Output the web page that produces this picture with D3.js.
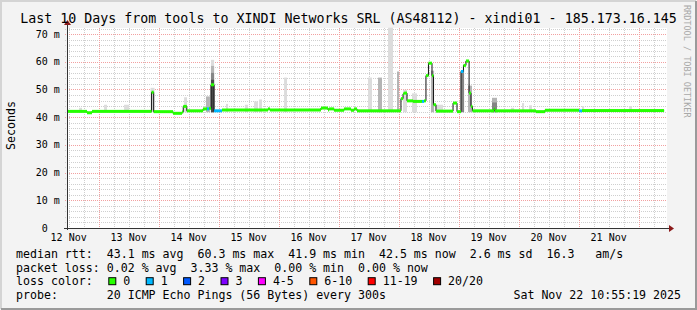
<!DOCTYPE html>
<html>
<head>
<meta charset="utf-8">
<script src="https://cdn.jsdelivr.net/npm/d3@7"></script>
<style>
  body { margin: 0; background: #f3f3f3; }
  svg text { font-family: "DejaVu Sans Mono", monospace; white-space: pre; }
</style>
</head>
<body>
<svg id="chart" width="697" height="310"></svg>
<script>
const graphStart = '2025-11-12 11:20';
const graphEnd = '2025-11-22 11:20';
const titleText = 'Last 10 Days from tools to XINDI Networks SRL (AS48112) - xindi01 - 185.173.16.145';

// median rtt as a step series; loss index picks the colour
const medianTimes = [
  '2025-11-12 11:20', '2025-11-12 19:20', '2025-11-12 21:20', '2025-11-13 21:10', '2025-11-13 22:00',
  '2025-11-14 05:45', '2025-11-14 09:20', '2025-11-14 09:50', '2025-11-14 11:15', '2025-11-14 17:45',
  '2025-11-14 19:20', '2025-11-14 20:10', '2025-11-14 20:55', '2025-11-14 22:10', '2025-11-15 01:20',
  '2025-11-15 19:45', '2025-11-15 20:30', '2025-11-16 16:55', '2025-11-16 19:45', '2025-11-16 20:10',
  '2025-11-16 22:10', '2025-11-17 02:10', '2025-11-17 04:55', '2025-11-17 06:10', '2025-11-17 07:20',
  '2025-11-18 00:55', '2025-11-18 01:45', '2025-11-18 02:10', '2025-11-18 03:20', '2025-11-18 05:45',
  '2025-11-18 09:20', '2025-11-18 10:10', '2025-11-18 10:55', '2025-11-18 11:55', '2025-11-18 13:20',
  '2025-11-18 13:55', '2025-11-18 14:55', '2025-11-18 21:45', '2025-11-18 23:20', '2025-11-19 00:55',
  '2025-11-19 01:55', '2025-11-19 02:55', '2025-11-19 04:10', '2025-11-19 04:55', '2025-11-19 05:30',
  '2025-11-19 14:10', '2025-11-19 14:30', '2025-11-20 06:55', '2025-11-20 10:30', '2025-11-21 00:10',
  '2025-11-21 01:20', '2025-11-22 10:10'
];
const medianValues = [
  42.1, 41.6, 42.1, 49.0, 42.0,
  41.4, 41.9, 43.9, 42.3, 43.0,
  43.0, 43.2, 51.7, 42.3, 42.6,
  43.0, 42.6, 43.3, 42.6, 43.0,
  42.5, 43.0, 42.5, 43.0, 42.3,
  46.7, 48.4, 48.7, 45.9, 45.7,
  45.7, 45.9, 55.0, 59.5, 55.0,
  44.5, 42.2, 45.1, 42.0, 56.5,
  58.7, 60.3, 48.7, 43.9, 42.3,
  43.0, 42.3, 42.0, 42.5, 42.3,
  42.4, 42.4
];
const medianLoss = [
  0, 0, 0, 0, 0,
  0, 0, 0, 0, 0,
  1, 0, 0, 1, 0,
  0, 0, 0, 0, 0,
  0, 0, 0, 0, 0,
  0, 0, 0, 0, 0,
  1, 0, 0, 0, 0,
  0, 0, 0, 0, 1,
  0, 0, 0, 0, 0,
  0, 0, 0, 0, 1,
  0, 0
];

// smoke (ping spread) bars
const smokeStart = [
  '2025-11-12 16:10', '2025-11-13 02:10', '2025-11-13 10:10', '2025-11-13 20:45', '2025-11-14 10:10',
  '2025-11-14 18:55', '2025-11-14 20:55', '2025-11-14 20:55', '2025-11-14 20:55', '2025-11-14 20:55',
  '2025-11-15 02:55', '2025-11-15 10:30', '2025-11-15 14:10', '2025-11-15 16:10', '2025-11-16 02:10',
  '2025-11-17 11:45', '2025-11-17 15:45', '2025-11-17 19:45', '2025-11-17 23:20', '2025-11-18 01:45',
  '2025-11-18 05:20', '2025-11-18 12:55', '2025-11-18 14:55', '2025-11-19 00:55', '2025-11-19 03:45',
  '2025-11-19 13:20', '2025-11-19 13:20', '2025-11-19 20:55', '2025-11-20 01:20', '2025-11-20 04:10',
  '2025-11-21 01:20', '2025-11-21 20:10'
];
const smokeEnd = [
  '2025-11-12 17:20', '2025-11-13 03:20', '2025-11-13 12:10', '2025-11-13 22:20', '2025-11-14 11:20',
  '2025-11-14 20:30', '2025-11-14 22:10', '2025-11-14 22:10', '2025-11-14 22:10', '2025-11-14 22:10',
  '2025-11-15 03:45', '2025-11-15 11:45', '2025-11-15 15:45', '2025-11-15 17:20', '2025-11-16 03:20',
  '2025-11-17 13:20', '2025-11-17 17:20', '2025-11-17 21:45', '2025-11-18 00:10', '2025-11-18 03:20',
  '2025-11-18 07:20', '2025-11-18 14:10', '2025-11-18 17:45', '2025-11-19 02:10', '2025-11-19 05:20',
  '2025-11-19 15:20', '2025-11-19 15:20', '2025-11-19 22:10', '2025-11-20 02:10', '2025-11-20 05:20',
  '2025-11-21 02:10', '2025-11-21 21:20'
];
const smokeHigh = [
  43.4, 44.5, 44.5, 50.6, 47.2,
  47.5, 60.7, 58.5, 56.0, 53.5,
  44.8, 44.5, 45.7, 46.4, 54.3,
  54.3, 54.3, 72.3, 56.5, 49.9,
  48.6, 56.8, 44.5, 57.0, 51.4,
  47.0, 45.3, 43.4, 45.1, 44.3,
  44.0, 44.0
];
const smokeShade = [
  0, 0, 0, 0, 0,
  1, 0, 1, 2, 3,
  0, 0, 0, 0, 0,
  0, 1, 0, 1, 0,
  0, 1, 0, 2, 1,
  1, 2, 0, 0, 0,
  0, 0
];
const smokeLow = 41.8;
const shadeColors = ['#dcdcdc', '#b4b4b4', '#858585', '#4a4a4a'];

const lossLabels = ['0', '1', '2', '3', '4-5', '6-10', '11-19', '20/20'];
const lossColors = ['#26ff00', '#00b8ff', '#0059ff', '#7e00ff', '#ff00ff', '#ff5500', '#ff0000', '#a10000'];

const statLines = [
  'median rtt:  43.1 ms avg  60.3 ms max  41.9 ms min  42.5 ms now  2.6 ms sd  16.3   am/s',
  'packet loss: 0.02 % avg  3.33 % max  0.00 % min  0.00 % now'
];
const probeText = 'probe:       20 ICMP Echo Pings (56 Bytes) every 300s';
const stampText = 'Sat Nov 22 10:55:19 2025';

const parse = d3.timeParse('%Y-%m-%d %H:%M');
const t0 = parse(graphStart), t1 = parse(graphEnd);
const plotLeft = 67, plotRight = 667, plotTop = 28, plotBottom = 228;

const x = d3.scaleTime().domain([t0, t1]).range([plotLeft, plotRight]);
const y = d3.scaleLinear().domain([0, 72.2]).range([plotBottom, plotTop]);

const svg = d3.select('#chart');

// frame
svg.append('rect').attr('width', 697).attr('height', 310).attr('fill', '#f3f3f3');
svg.append('path').attr('d', 'M1,309V1H696').attr('fill', 'none').attr('stroke', '#d4d4d4').attr('stroke-width', 2);
svg.append('path').attr('d', 'M1,309H696V1').attr('fill', 'none').attr('stroke', '#9a9a9a').attr('stroke-width', 2);

svg.append('rect').attr('x', plotLeft).attr('y', plotTop)
  .attr('width', plotRight - plotLeft).attr('height', plotBottom - plotTop).attr('fill', '#fff');

// grid
const g = svg.append('g');
const minorY = d3.range(2, 72.2, 2).filter(v => v % 10 !== 0);
const majorY = d3.range(10, 72.2, 10);
const minorX = d3.timeHour.every(6).range(t0, t1).filter(d => d.getHours() !== 0);
const majorX = d3.timeDay.range(t0, t1);
const py = d => Math.round(y(d)) + 0.5;
const px = d => Math.round(x(d)) + 0.5;

g.selectAll('.gy').data(minorY).enter().append('line')
  .attr('x1', plotLeft - 2).attr('x2', plotRight).attr('y1', py).attr('y2', py)
  .attr('stroke', '#cfcfcf').attr('stroke-dasharray', '1,1');
g.selectAll('.gx').data(minorX).enter().append('line')
  .attr('y1', plotTop).attr('y2', plotBottom + 2).attr('x1', px).attr('x2', px)
  .attr('stroke', '#cfcfcf').attr('stroke-dasharray', '1,1');
g.selectAll('.my').data(majorY).enter().append('line')
  .attr('x1', plotLeft - 2).attr('x2', plotRight).attr('y1', py).attr('y2', py)
  .attr('stroke', '#f2a0a0').attr('stroke-dasharray', '1,1');
g.selectAll('.mx').data(majorX).enter().append('line')
  .attr('y1', plotTop).attr('y2', plotBottom + 2).attr('x1', px).attr('x2', px)
  .attr('stroke', '#f2a0a0').attr('stroke-dasharray', '1,1');

// smoke
const smoke = smokeStart.map((s, i) => ({
  start: parse(s), end: parse(smokeEnd[i]), high: smokeHigh[i], shade: smokeShade[i]
}));
svg.append('g').selectAll('rect').data(smoke).enter().append('rect')
  .attr('x', d => x(d.start)).attr('width', d => x(d.end) - x(d.start))
  .attr('y', d => y(d.high)).attr('height', d => y(smokeLow) - y(d.high))
  .attr('fill', d => shadeColors[d.shade]);

// median
const median = medianTimes.map((s, i) => ({ t: parse(s), v: medianValues[i], loss: medianLoss[i] }));
const step = d3.line().curve(d3.curveStepAfter).x(d => x(d.t)).y(d => y(d.v));
svg.append('path').datum(median).attr('d', step)
  .attr('fill', 'none').attr('stroke', '#111').attr('stroke-width', 1);

const segs = median.slice(0, -1).map((d, i) => ({ t: d.t, next: median[i + 1].t, v: d.v, loss: d.loss }));
svg.append('g').selectAll('rect').data(segs).enter().append('rect')
  .attr('x', d => x(d.t)).attr('width', d => x(d.next) - x(d.t))
  .attr('y', d => y(d.v) - 1.5).attr('height', 3)
  .attr('fill', d => lossColors[d.loss]);

// axes
svg.append('line').attr('x1', plotLeft + 0.5).attr('x2', plotLeft + 0.5).attr('y1', plotBottom + 2).attr('y2', plotTop - 4)
  .attr('stroke', '#333');
svg.append('line').attr('x1', plotLeft - 3).attr('x2', plotRight + 3).attr('y1', plotBottom + 0.5).attr('y2', plotBottom + 0.5)
  .attr('stroke', '#333');
svg.append('path').attr('d', `M${plotLeft - 3},${plotTop - 3}L${plotLeft + 0.5},${plotTop - 8}L${plotLeft + 4},${plotTop - 3}Z`).attr('fill', '#8b1a1a');
svg.append('path').attr('d', `M${plotRight + 2},${plotBottom - 3}L${plotRight + 7},${plotBottom + 0.5}L${plotRight + 2},${plotBottom + 4}Z`).attr('fill', '#8b1a1a');

// y labels
svg.append('g').selectAll('text').data(d3.range(0, 71, 10)).enter().append('text')
  .attr('x', 35.8).attr('y', d => y(d) + 3.5)
  .attr('font-size', 10).attr('fill', '#000')
  .text(d => d === 0 ? ' 0' : d + ' m');

// x labels at noon
const noons = d3.timeDay.range(d3.timeDay.floor(t0), t1).map(d => d3.timeHour.offset(d, 12)).filter(d => d >= t0 && d <= t1);
const fmt = d3.timeFormat('%d %b');
svg.append('g').selectAll('text').data(noons).enter().append('text')
  .attr('x', d => x(d)).attr('y', 241).attr('text-anchor', 'middle')
  .attr('font-size', 10).attr('fill', '#000').text(d => fmt(d));

// title and side labels
svg.append('text').attr('x', 348.5).attr('y', 23.3).attr('text-anchor', 'middle')
  .attr('font-size', 13.3).attr('fill', '#000').text(titleText);
svg.append('text').attr('transform', 'translate(15,125.5) rotate(-90)').attr('text-anchor', 'middle')
  .attr('font-size', 11.6).attr('fill', '#000').text('Seconds');
svg.append('text').attr('transform', 'translate(684.3,5) rotate(90)')
  .attr('font-size', 8.5).attr('fill', '#a8a8a8').text('RRDTOOL / TOBI OETIKER');

// legend
const lx = 16, cw = 7.0;
const lineY = [257.8, 271.5, 285.2, 298.9];
statLines.forEach((s, i) => {
  svg.append('text').attr('x', lx).attr('y', lineY[i]).attr('font-size', 11.6).attr('fill', '#000').text(s);
});
svg.append('text').attr('x', lx).attr('y', lineY[2]).attr('font-size', 11.6).attr('fill', '#000').text('loss color:');
let bx = 108.3;
const boxes = lossLabels.map((l, i) => {
  const item = { label: l, color: lossColors[i], x: bx };
  bx += 30.4 + cw * l.length;
  return item;
});
const lg = svg.append('g').selectAll('g').data(boxes).enter().append('g');
lg.append('rect').attr('x', d => d.x + 0.5).attr('y', lineY[2] - 7.5).attr('width', 7).attr('height', 7)
  .attr('fill', d => d.color).attr('stroke', '#000').attr('stroke-width', 1);
lg.append('text').attr('x', d => d.x + 15).attr('y', lineY[2]).attr('font-size', 11.6).attr('fill', '#000').text(d => d.label);

svg.append('text').attr('x', lx).attr('y', lineY[3]).attr('font-size', 11.6).attr('fill', '#000').text(probeText);
svg.append('text').attr('x', 681).attr('y', lineY[3]).attr('text-anchor', 'end').attr('font-size', 11.6).attr('fill', '#000').text(stampText);
</script>
</body>
</html>
